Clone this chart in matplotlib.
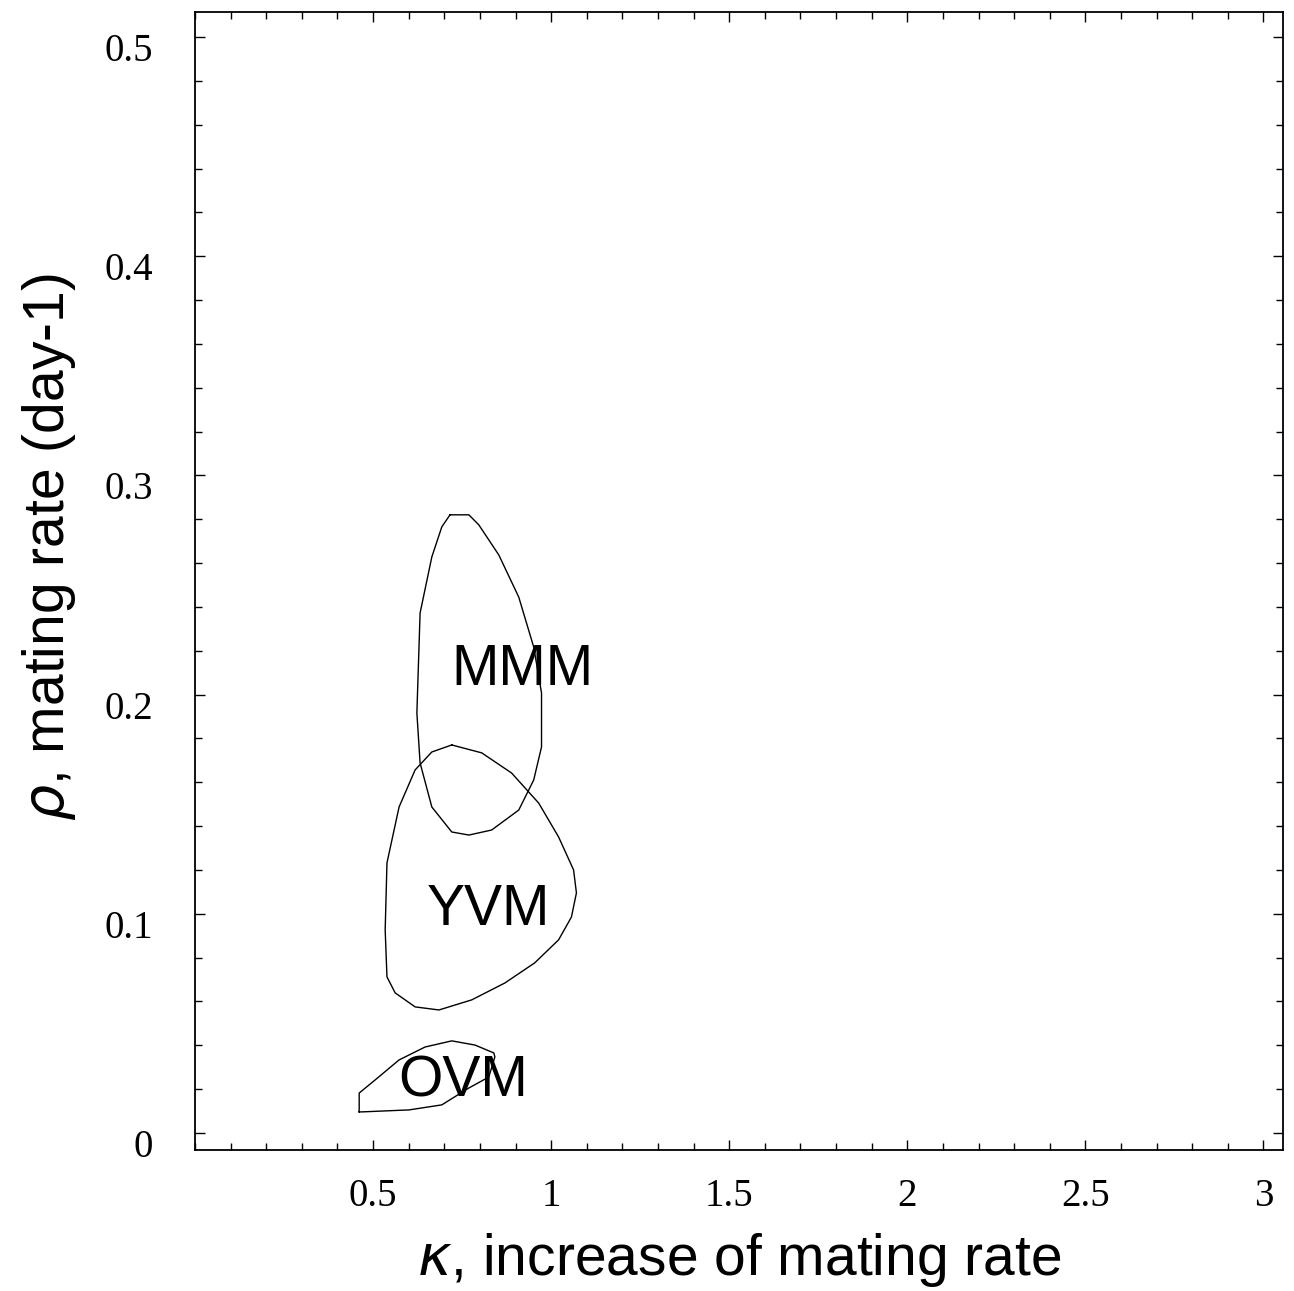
import matplotlib.pyplot as plt
from matplotlib.ticker import MultipleLocator
import matplotlib.transforms as mtransforms

# contour outlines (kappa, rho)
mmm_k = [0.716, 0.769, 0.797, 0.853, 0.909, 0.951, 0.973, 0.973, 0.951, 0.909,
         0.833, 0.769, 0.721, 0.665, 0.632, 0.623, 0.632, 0.665, 0.693, 0.716]
mmm_r = [0.282, 0.282, 0.2774, 0.2637, 0.2445, 0.2217, 0.2007, 0.1761, 0.161, 0.1473,
         0.1382, 0.1359, 0.1373, 0.1487, 0.1688, 0.1916, 0.2372, 0.2628, 0.2765, 0.282]

yvm_k = [0.721, 0.805, 0.889, 0.965, 1.021, 1.063, 1.071, 1.057, 1.021, 0.954, 0.870,
         0.777, 0.685, 0.618, 0.562, 0.539, 0.534, 0.539, 0.573, 0.618, 0.665, 0.721]
yvm_r = [0.177, 0.1734, 0.1642, 0.1505, 0.135, 0.12, 0.1095, 0.0985, 0.0881, 0.0776, 0.0684,
         0.0607, 0.0561, 0.0575, 0.0639, 0.0712, 0.0926, 0.1232, 0.1487, 0.1656, 0.1738, 0.177]

ovm_k = [0.461, 0.461, 0.506, 0.573, 0.646, 0.721, 0.786, 0.839, 0.842,
         0.825, 0.769, 0.693, 0.601, 0.469, 0.461]
ovm_r = [0.0096, 0.0182, 0.0242, 0.0333, 0.0392, 0.042, 0.0401, 0.0365, 0.0347,
         0.0255, 0.0205, 0.0128, 0.0105, 0.0096, 0.0096]

region_names = ['MMM', 'YVM', 'OVM']
label_k = [0.918, 0.825, 0.752]
label_r = [0.211, 0.1017, 0.0233]

x_ticks = [0.5, 1, 1.5, 2, 2.5, 3]
x_ticklabels = ['0.5', '1', '1.5', '2', '2.5', '3']
y_ticks = [0, 0.1, 0.2, 0.3, 0.4, 0.5]
y_ticklabels = ['0', '0.1', '0.2', '0.3', '0.4', '0.5']

fig = plt.figure(figsize=(12.94, 12.91), dpi=100)
ax = fig.add_axes([0.1507, 0.1092, 0.8408, 0.8815])

for k, r in [(mmm_k, mmm_r), (yvm_k, yvm_r), (ovm_k, ovm_r)]:
    ax.plot(k, r, color='black', lw=1.0)

for name, k, r in zip(region_names, label_k, label_r):
    ax.text(k, r, name, fontsize=41, family='Liberation Sans',
            ha='center', va='center')

ax.set_xlim(0.0, 3.055)
ax.set_ylim(-0.0078, 0.5114)

ax.set_xticks(x_ticks)
ax.set_xticklabels(x_ticklabels)
ax.set_yticks(y_ticks)
ax.set_yticklabels(y_ticklabels)
ax.xaxis.set_minor_locator(MultipleLocator(0.1))
ax.yaxis.set_minor_locator(MultipleLocator(0.02))

ax.tick_params(which='both', direction='in', top=True, right=True,
               labeltop=False, labelright=False, width=1.0)
ax.tick_params(which='major', length=7)
ax.tick_params(which='minor', length=5)
ax.tick_params(axis='x', which='major', pad=20)
ax.tick_params(axis='y', which='major', pad=30)

for lab in ax.get_xticklabels() + ax.get_yticklabels():
    lab.set_family('Liberation Serif')
    lab.set_fontsize(28)

# y tick labels sit a little under their ticks in the original
shift = mtransforms.ScaledTranslation(0, -10 / 100, fig.dpi_scale_trans)
for lab in ax.get_yticklabels():
    lab.set_transform(lab.get_transform() + shift)

for s in ax.spines.values():
    s.set_linewidth(1.3)

ax.set_xlabel(r'$\kappa$, increase of mating rate', fontsize=41,
              family='Liberation Sans', labelpad=12)
ax.set_ylabel(r'$\rho$, mating rate (day-1)', fontsize=41,
              family='Liberation Sans')
ax.yaxis.set_label_coords(-0.108, 0.53)

fig.savefig('out.png', dpi=100)
